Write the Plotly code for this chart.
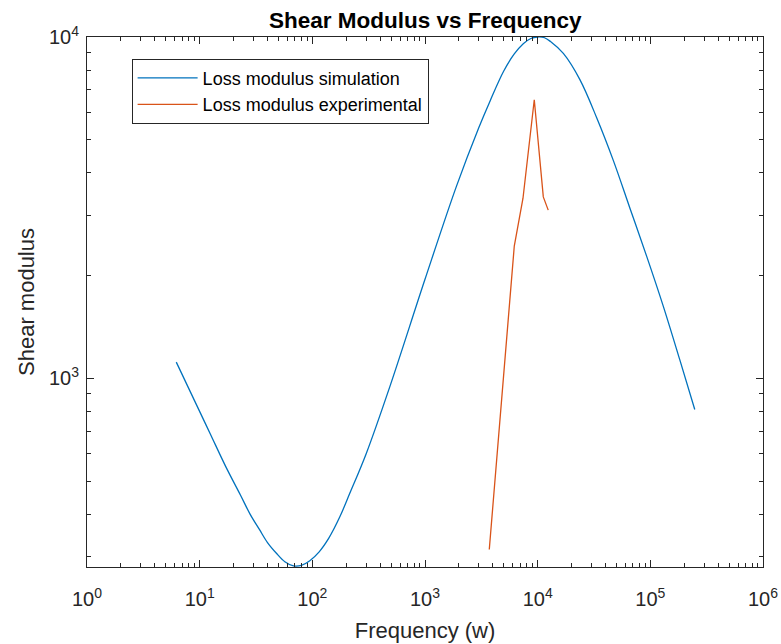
import plotly.graph_objects as go

# ---- data ----
sim_freq = [6.2, 9, 12.4, 17, 23, 28, 34, 40, 48, 57, 68, 80, 95, 115, 140, 175, 215,
            300, 490, 1000, 1900, 3000, 3800, 5000, 6200, 7450, 8700, 10000, 11500, 13000,
            16900, 23700, 33400, 46900, 65900, 92700, 130000, 183000, 248000]
sim_mod = [1115, 860, 688, 552, 455, 400, 360, 330, 307, 290, 282, 283, 292, 310, 340, 392, 460,
           600, 950, 1950, 3650, 5420, 6520, 7950, 8920, 9560, 9900, 10000, 9950, 9700,
           8950, 7500, 5800, 4350, 3150, 2280, 1630, 1130, 810]

exp_freq = [3720, 6200, 7410, 9330, 11220, 12410]
exp_mod = [315, 2440, 3370, 6550, 3400, 3110]

x_tickvals = [1, 10, 100, 1000, 10000, 100000, 1000000]
x_ticktext = ["10<sup>0</sup>", "10<sup>1</sup>", "10<sup>2</sup>", "10<sup>3</sup>",
              "10<sup>4</sup>", "10<sup>5</sup>", "10<sup>6</sup>"]
y_tickvals = [1000, 10000]
y_ticktext = ["10<sup>3</sup>", "10<sup>4</sup>"]

x_minor = [m * 10 ** k for k in range(6) for m in range(2, 10)]
y_minor = [m * 10 ** k for k in range(2, 4) for m in range(2, 10)]

axis_color = "#262626"
font_family = "Liberation Sans, Arial, sans-serif"

fig = go.Figure()
fig.add_trace(go.Scatter(x=sim_freq, y=sim_mod, mode="lines",
                         name="Loss modulus simulation",
                         line=dict(color="#0072BD", width=1.3, shape="spline", smoothing=1)))
fig.add_trace(go.Scatter(x=exp_freq, y=exp_mod, mode="lines",
                         name="Loss modulus experimental",
                         line=dict(color="#D95319", width=1.3)))

common = dict(showgrid=False, zeroline=False, showline=True, linecolor=axis_color,
              linewidth=1, mirror="allticks", ticks="inside", ticklen=7,
              tickcolor=axis_color, tickwidth=1, automargin=False,
              tickfont=dict(family=font_family, size=20, color=axis_color))

fig.update_xaxes(type="log", range=[0, 6], tickmode="array", tickvals=x_tickvals,
                 ticktext=x_ticktext, ticklabelstandoff=14,
                 minor=dict(tickmode="array", tickvals=x_minor, ticks="inside",
                            ticklen=4, tickcolor=axis_color, showgrid=False),
                 title=dict(text="Frequency (w)",
                            font=dict(family=font_family, size=22, color=axis_color),
                            standoff=13),
                 **common)
fig.update_yaxes(type="log", range=[2.447, 4], tickmode="array", tickvals=y_tickvals,
                 ticktext=y_ticktext, ticklabelstandoff=3,
                 minor=dict(tickmode="array", tickvals=y_minor, ticks="inside",
                            ticklen=4, tickcolor=axis_color, showgrid=False),
                 title=dict(text="Shear modulus",
                            font=dict(family=font_family, size=22, color=axis_color),
                            standoff=8),
                 **common)

fig.update_layout(
    width=781, height=644,
    margin=dict(l=87, r=18, t=37, b=77),
    paper_bgcolor="white", plot_bgcolor="white",
    title=dict(text="<b>Shear Modulus vs Frequency</b>", x=0.5444, xanchor="center",
               y=0.969, yanchor="middle",
               font=dict(family=font_family, size=22.5, color="black")),
    legend=dict(x=0.066, y=0.959, xanchor="left", yanchor="top",
                bordercolor=axis_color, borderwidth=1, bgcolor="white",
                itemwidth=60,
                font=dict(family=font_family, size=18, color="black")),
    showlegend=True,
)

fig.write_html("out.html")
